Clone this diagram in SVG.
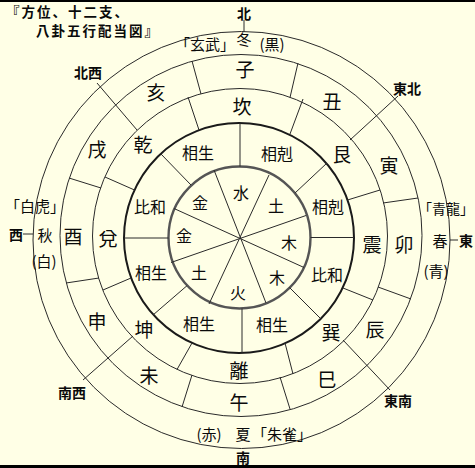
<svg xmlns="http://www.w3.org/2000/svg" width="475" height="468" viewBox="0 0 475 468">
<style>
.c{fill:none;stroke:#2a2a2a;stroke-width:1}
.c4{fill:none;stroke:#1a1a1a;stroke-width:2}
.c5{fill:none;stroke:#555;stroke-width:2.4}
.l{stroke:#2a2a2a;stroke-width:1;fill:none}
text{font-family:"Noto Sans CJK JP","Noto Sans CJK SC",sans-serif;fill:#0a0a0a;text-anchor:middle;dominant-baseline:central}
.t1{font-size:19px}
.t2{font-size:16px}
.t3{font-size:15px}
.t4{font-size:14px;font-weight:bold}
.tt{font-size:13.5px;font-weight:bold;letter-spacing:2px;text-anchor:start}
</style>
<rect x="0" y="0" width="475" height="468" fill="#FFFFE6"/>
<rect x="0" y="0" width="475" height="2" fill="#000"/>
<rect x="0" y="465" width="475" height="3" fill="#000"/>

<g id="circles">
<circle class="c" cx="241.5" cy="240" r="208.5"/>
<circle class="c" cx="241" cy="235.5" r="181"/>
<circle class="c" cx="240" cy="236" r="147.5"/>
<circle class="c4" cx="239" cy="238" r="115"/>
<circle class="c5" cx="239.5" cy="237.5" r="71"/>
</g>

<g id="connectors">
<line class="l" x1="214" y1="170" x2="266" y2="303"/>
<line class="l" x1="269" y1="175" x2="209" y2="304"/>
<line class="l" x1="174" y1="208.5" x2="304" y2="267.5"/>
<line class="l" x1="306" y1="215.5" x2="171" y2="262.5"/>
<line class="l" x1="240" y1="166.5" x2="240" y2="123"/>
<line class="l" x1="295" y1="193" x2="327" y2="163"/>
<line class="l" x1="310.5" y1="237.5" x2="354" y2="237.5"/>
<line class="l" x1="289.5" y1="287.5" x2="320.5" y2="318.5"/>
<line class="l" x1="242" y1="308.5" x2="242" y2="353"/>
<line class="l" x1="187" y1="285.7" x2="153" y2="315"/>
<line class="l" x1="168.5" y1="238" x2="124" y2="238"/>
<line class="l" x1="191" y1="185" x2="160" y2="153"/>
<line class="l" x1="199" y1="130" x2="188" y2="97"/>
<line class="l" x1="290" y1="134" x2="303" y2="99"/>
<line class="l" x1="347.5" y1="200" x2="380" y2="190"/>
<line class="l" x1="343" y1="288" x2="373" y2="300"/>
<line class="l" x1="285" y1="343" x2="293" y2="374"/>
<line class="l" x1="192" y1="343" x2="177" y2="369.5"/>
<line class="l" x1="131" y1="278" x2="103" y2="290"/>
<line class="l" x1="134.5" y1="190" x2="105" y2="177"/>
<line class="l" x1="201" y1="94" x2="192" y2="61"/>
<line class="l" x1="290" y1="97.5" x2="298" y2="63"/>
<line class="l" x1="383" y1="203" x2="418" y2="198"/>
<line class="l" x1="378" y1="287" x2="411" y2="299"/>
<line class="l" x1="280" y1="377" x2="290" y2="409"/>
<line class="l" x1="192" y1="375" x2="182" y2="407"/>
<line class="l" x1="99" y1="278" x2="66" y2="283"/>
<line class="l" x1="101" y1="188" x2="69" y2="178"/>
<line class="l" x1="137" y1="130" x2="97" y2="83"/>
<line class="l" x1="350" y1="140" x2="398" y2="96"/>
<line class="l" x1="343" y1="340" x2="390" y2="390"/>
<line class="l" x1="133" y1="336" x2="83" y2="380"/>
<line class="l" x1="244" y1="20" x2="244" y2="32"/>
<line class="l" x1="23" y1="234" x2="33" y2="234"/>
<line class="l" x1="450" y1="240" x2="458" y2="240"/>
</g>

<g id="title">
<text class="tt"><tspan x="6" y="11">『方位、十二支、</tspan><tspan x="36" y="30">八卦五行配当図』</tspan></text>
</g>

<g id="inner">
<text class="t2" x="241" y="192">水</text>
<text class="t2" x="276" y="205">土</text>
<text class="t2" x="289" y="242">木</text>
<text class="t2" x="277" y="277">木</text>
<text class="t2" x="238" y="292">火</text>
<text class="t2" x="199" y="272">土</text>
<text class="t2" x="184" y="235">金</text>
<text class="t2" x="200" y="202">金</text>
</g>

<g id="ring2">
<text class="t2" x="198" y="152">相生</text>
<text class="t2" x="277" y="153">相剋</text>
<text class="t2" x="328" y="206">相剋</text>
<text class="t2" x="327" y="274">比和</text>
<text class="t2" x="272" y="324">相生</text>
<text class="t2" x="199" y="323">相生</text>
<text class="t2" x="151" y="272">相生</text>
<text class="t2" x="150" y="206">比和</text>
</g>

<g id="ring3">
<text class="t1" x="242" y="105">坎</text>
<text class="t1" x="342" y="153">艮</text>
<text class="t1" x="372" y="243">震</text>
<text class="t1" x="331" y="331">巽</text>
<text class="t1" x="239" y="369">離</text>
<text class="t1" x="144" y="328">坤</text>
<text class="t1" x="108" y="237">兌</text>
<text class="t1" x="143" y="143">乾</text>
</g>

<g id="ring4">
<text class="t1" x="245" y="68">子</text>
<text class="t1" x="332" y="100">丑</text>
<text class="t1" x="389" y="164">寅</text>
<text class="t1" x="404" y="243">卯</text>
<text class="t1" x="375" y="328">辰</text>
<text class="t1" x="327" y="378">巳</text>
<text class="t1" x="239" y="401">午</text>
<text class="t1" x="149" y="374">未</text>
<text class="t1" x="97" y="320">申</text>
<text class="t1" x="73" y="235">酉</text>
<text class="t1" x="97" y="148">戌</text>
<text class="t1" x="156" y="91">亥</text>
</g>

<g id="outer">
<text class="t3" x="205" y="43">「玄武」</text>
<text class="t3" x="244" y="38">冬</text>
<text class="t3" x="272" y="43">(黒)</text>
<text class="t3" x="35" y="205">「白虎」</text>
<text class="t3" x="45" y="234">秋</text>
<text class="t3" x="44" y="260">(白)</text>
<text class="t3" x="446" y="208" style="font-size:14px">「青龍」</text>
<text class="t3" x="440" y="240">春</text>
<text class="t3" x="436" y="270">(青)</text>
<text class="t3" x="209" y="433">(赤)</text>
<text class="t3" x="243" y="433">夏</text>
<text class="t3" x="282" y="433">「朱雀」</text>
</g>

<g id="directions">
<text class="t4" x="244" y="13">北</text>
<text class="t4" x="16" y="234">西</text>
<text class="t4" x="466" y="240">東</text>
<text class="t4" x="243" y="457">南</text>
<text class="t4" x="88" y="72">北西</text>
<text class="t4" x="407" y="88">東北</text>
<text class="t4" x="72" y="392">南西</text>
<text class="t4" x="398" y="400">東南</text>
</g>
</svg>
